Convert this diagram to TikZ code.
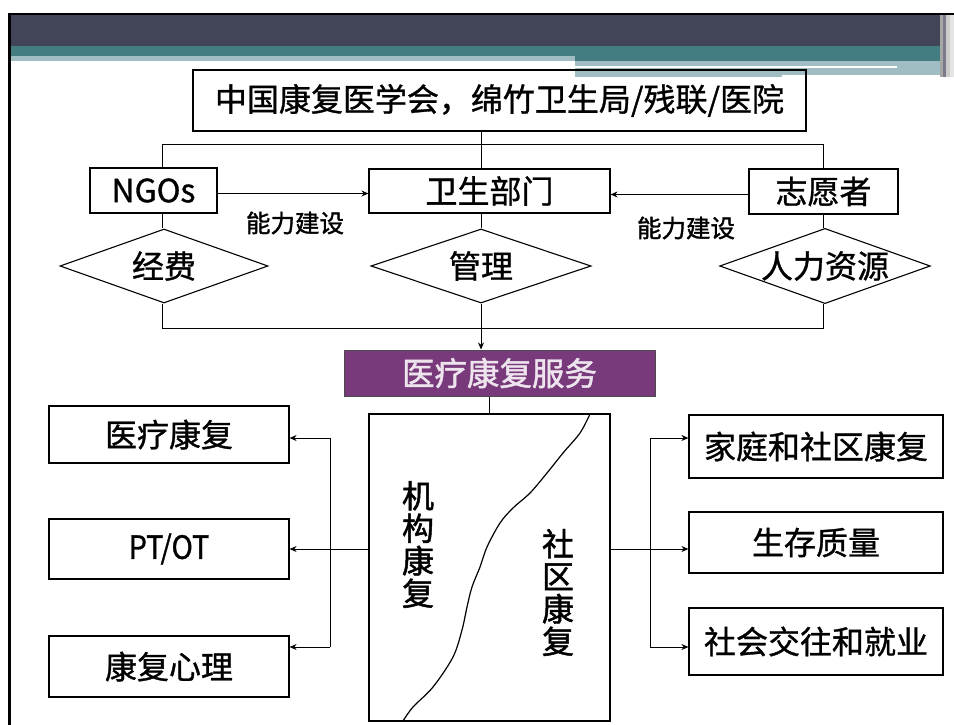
\documentclass[tikz,border=0pt]{standalone}
\usepackage{fontspec}
\setmainfont{Noto Sans CJK SC}[FakeBold=1.0]
\newfontfamily\boldcjk{Noto Sans CJK SC}[FakeBold=1.5]
\usetikzlibrary{shapes.geometric,arrows.meta}
\definecolor{hdark}{HTML}{424457}
\definecolor{hteal}{HTML}{437D82}
\definecolor{hlight}{HTML}{9FBDC2}
\definecolor{hpurple}{HTML}{793A7C}
\definecolor{htext}{HTML}{EDE4EE}
\tikzset{
  box/.style={draw=black, line width=1.2pt, rectangle, inner sep=0pt, font=\fontsize{32}{34}\selectfont},
  dia/.style={draw=black, line width=1.1pt, diamond, aspect=2.8, inner sep=0pt, font=\fontsize{32}{34}\selectfont},
  conn/.style={draw=black, line width=0.8pt},
  arr/.style={conn, -{Stealth[length=7pt,width=6pt]}},
  lbl/.style={inner sep=0pt, font=\boldcjk\fontsize{24.5}{26}\selectfont},
  vtext/.style={inner sep=0pt, align=center, font=\boldcjk\fontsize{32}{32.5}\selectfont}
}
\begin{document}
\begin{tikzpicture}[x=1pt,y=-1pt]
\useasboundingbox (0,0) rectangle (954,725);
\fill[white] (0,0) rectangle (954,725);
% header
\fill[hdark] (10,15) rectangle (940,46);
\fill[hteal] (10,46) rectangle (954,56);
\fill[hteal] (575,56) rectangle (950,61);
\fill[hlight] (10,56) rectangle (575,61);
\fill[hlight] (575,61) rectangle (950,77);
\fill[white] (575,66) rectangle (897,68);
\fill[white] (782,75) rectangle (950,77);
\fill[gray!70] (940,15) rectangle (943,77);
\fill[hdark!70] (943,15) rectangle (946,77);
\fill[gray!40] (946,15) rectangle (950,77);
\fill[gray!20] (950,15) rectangle (954,77);
\fill[black] (8,13) rectangle (954,15.5);
\fill[black] (8,13) rectangle (10.5,725);

% top part
\node[box, minimum width=613pt, minimum height=61pt] (top) at (499.5,100.5) {中国康复医学会，绵竹卫生局/残联/医院};
\node[box, minimum width=127pt, minimum height=45pt] (ngo) at (153.5,190.5) {NGOs};
\node[box, minimum width=241pt, minimum height=44pt] (ws) at (489.5,191) {卫生部门};
\node[box, minimum width=149pt, minimum height=45pt] (zy) at (823.5,191.5) {志愿者};
\node[dia, minimum width=208pt, minimum height=74pt] (jf) at (164,266) {经费};
\node[dia, minimum width=220pt, minimum height=74pt] (gl) at (481,266) {管理};
\node[dia, minimum width=208pt, minimum height=74pt] (rl) at (825,266) {人力资源};
\node[lbl] (nl1) at (295,223) {能力建设};
\node[lbl] (nl2) at (686,228) {能力建设};

\coordinate (xl) at (162,144);
\coordinate (xr) at (823,144);
\coordinate (xc) at (481,144);
\coordinate (yb) at (0,328);
\draw[conn] (ngo.north -| xl) -- (xl) -- (xr) -- (zy.north -| xr);
\draw[conn] (top.south -| xc) -- (ws.north -| xc);
\draw[conn] (ngo.south -| xl) -- (xl |- jf.north);
\draw[conn] (ws.south -| gl.north) -- (gl.north);
\draw[conn] (zy.south -| xr) -- (xr |- rl.north);
\draw[conn] (xl |- jf.south) -- (xl |- yb) -- (xr |- yb) -- (xr |- rl.south);
\draw[arr] ([yshift=-3pt]ngo.east) -- ([yshift=-3pt]ngo.east -| ws.west);
\draw[arr] ([yshift=-3pt]zy.west) -- ([yshift=-3pt]zy.west -| ws.east);

% service
\node[draw=black!70, line width=1pt, fill=hpurple, inner sep=0pt, minimum width=311pt, minimum height=46pt, text=htext, font=\boldcjk\fontsize{32.5}{34}\selectfont] (svc) at (499.5,373) {医疗康复服务};
\draw[arr] (gl.south) -- (gl.south |- svc.north);
\node[draw=black, line width=1.2pt, inner sep=0pt, minimum width=241pt, minimum height=307pt] (big) at (489.5,567.5) {};
\draw[conn] (big.north |- svc.south) -- (big.north);
\draw[line width=1.2pt] plot[smooth, tension=0.55] coordinates {(590,414) (580,433) (563,453) (547,473) (530,493) (513,508) (500,523) (487,547) (480,567) (472,587) (467,607) (462,630) (453,657) (433,687) (413,707) (403,721)};
\node[vtext] (jg) at (418,544.5) {机\\构\\康\\复};
\node[vtext] (sq) at (558,592.5) {社\\区\\康\\复};

% left boxes
\node[box, minimum width=240pt, minimum height=57pt] (lb1) at (169,434.5) {医疗康复};
\node[box, minimum width=240pt, minimum height=60pt] (lb2) at (169,549) {\addfontfeature{FakeStretch=0.9}PT/OT};
\node[box, minimum width=240pt, minimum height=61pt] (lb3) at (169,666.5) {康复心理};
% right boxes
\node[box, minimum width=254pt, minimum height=63pt] (rb1) at (816,446.5) {家庭和社区康复};
\node[box, minimum width=254pt, minimum height=61pt] (rb2) at (816,542.5) {生存质量};
\node[box, minimum width=254pt, minimum height=67pt] (rb3) at (816,641.5) {社会交往和就业};

\coordinate (la) at (330,438);
\coordinate (lm) at (330,549);
\coordinate (lc) at (330,647);
\draw[conn] (la) -- (lc);
\draw[arr] (lm -| big.west) -- (lm -| lb2.east);
\draw[arr] (la) -- (la -| lb1.east);
\draw[arr] (lc) -- (lc -| lb3.east);
\coordinate (ra) at (650,438);
\coordinate (rm) at (650,549);
\coordinate (rc) at (650,647);
\draw[conn] (ra) -- (rc);
\draw[arr] (rm -| big.east) -- (rm -| rb2.west);
\draw[arr] (ra) -- (ra -| rb1.west);
\draw[arr] (rc) -- (rc -| rb3.west);
\end{tikzpicture}
\end{document}
